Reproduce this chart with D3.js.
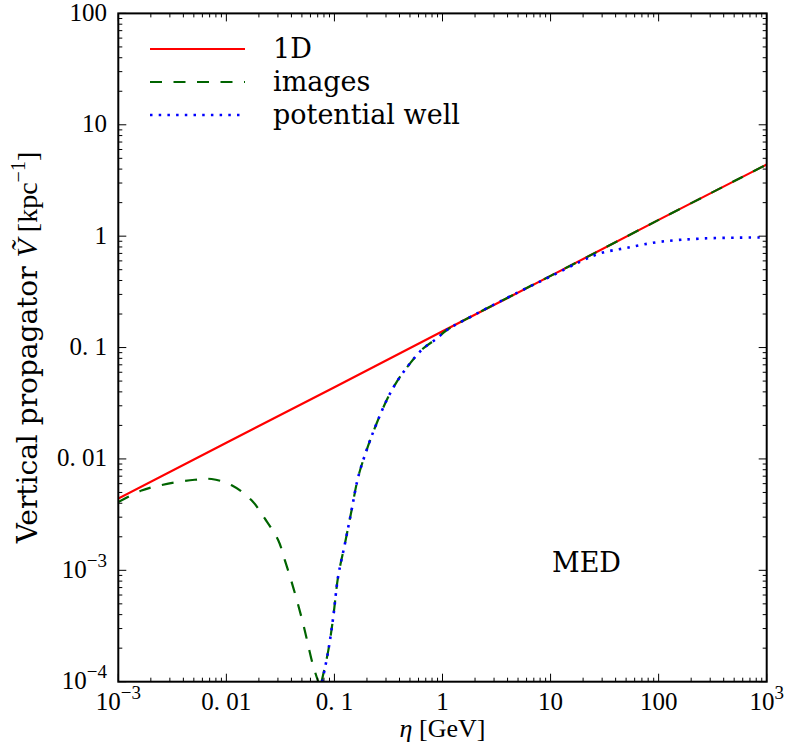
<!DOCTYPE html>
<html>
<head>
<meta charset="utf-8">
<script src="https://cdn.jsdelivr.net/npm/d3@7"></script>
<style>
  html, body { margin: 0; padding: 0; background: #fff; }
  svg { display: block; }
</style>
</head>
<body>
<svg id="chart" width="785" height="756"></svg>
<script>
// ---------- data ----------
const xTickValues = [1e-3, 1e-2, 1e-1, 1, 10, 100, 1000];
const xTickLabels = [["10", "\u22123"], ["0. 01"], ["0. 1"], ["1"], ["10"], ["100"], ["10", "3"]];
const yTickValues = [1e-4, 1e-3, 1e-2, 1e-1, 1, 10, 100];
const yTickLabels = [["10", "\u22124"], ["10", "\u22123"], ["0. 01"], ["0. 1"], ["1"], ["10"], ["100"]];

const seriesNames = ["1D", "images", "potential well"];

// 1D (straight power law in log-log)
const eta1D = [0.001, 0.01, 0.1, 1, 10, 100, 1000];
const v1D   = [0.0044, 0.014, 0.044, 0.14, 0.44, 1.4, 4.4];

// images: left branch (before the dip) and right branch
const etaImagesA = [0.001, 0.00164, 0.0029, 0.0051, 0.0073, 0.0112, 0.0171, 0.0228, 0.0302, 0.0348, 0.0416, 0.0514, 0.0628, 0.0708];
const vImagesA   = [0.0041, 0.0052, 0.0060, 0.0065, 0.0066, 0.0058, 0.00425, 0.0029, 0.00186, 0.00123, 0.0007, 0.00033, 0.000145, 0.0001];
const etaImagesB = [0.076, 0.0877, 0.0975, 0.108, 0.125, 0.144, 0.166, 0.206, 0.245, 0.304, 0.376, 0.499, 0.662, 0.88, 1.09, 2, 5, 10, 100, 1000];
const vImagesB   = [0.0001, 0.00019, 0.00038, 0.00087, 0.00173, 0.00345, 0.0069, 0.0133, 0.0207, 0.0336, 0.049, 0.0718, 0.098, 0.12, 0.143, 0.198, 0.313, 0.44, 1.4, 4.4];

// potential well
const etaWell = [0.077, 0.0877, 0.0975, 0.108, 0.125, 0.144, 0.166, 0.206, 0.245, 0.304, 0.376, 0.499, 0.662, 0.88, 1.09, 2, 5, 10, 18.7, 28.6, 50.4, 102, 258, 1000];
const vWell   = [0.0001, 0.00019, 0.00038, 0.00087, 0.00173, 0.00345, 0.0069, 0.0133, 0.0207, 0.0336, 0.049, 0.0718, 0.098, 0.12, 0.143, 0.198, 0.313, 0.435, 0.588, 0.70, 0.785, 0.889, 0.953, 0.975];

const annotation = "MED";

// ---------- layout ----------
const svg = d3.select("#chart");
const L = 118.3, R = 766.7, T = 13.4, B = 681.7;
const x = d3.scaleLog().domain([1e-3, 1e3]).range([L, R]);
const y = d3.scaleLog().domain([1e-4, 1e2]).range([B, T]);

const zip = (a, b) => a.map((v, i) => [v, b[i]]);

svg.append("rect").attr("width", 785).attr("height", 756).attr("fill", "#fff");

svg.append("clipPath").attr("id", "clip")
  .append("rect").attr("x", L).attr("y", T).attr("width", R - L).attr("height", B - T);

const plot = svg.append("g").attr("clip-path", "url(#clip)");

const lineLin = d3.line().x(d => x(d[0])).y(d => y(d[1]));
const lineSmooth = d3.line().x(d => x(d[0])).y(d => y(d[1])).curve(d3.curveCatmullRom.alpha(0.5));

const styles = [
  { color: "#ff0000", dash: null, width: 2.2 },
  { color: "#006400", dash: "12,11.5", width: 2.2 },
  { color: "#0000ff", dash: "2.5,6.2", width: 2.6 }
];

plot.append("path").datum(zip(eta1D, v1D)).attr("d", lineLin)
  .attr("fill", "none").attr("stroke", styles[0].color).attr("stroke-width", styles[0].width);

[zip(etaImagesA, vImagesA), zip(etaImagesB, vImagesB)].forEach(seg => {
  plot.append("path").datum(seg).attr("d", lineSmooth)
    .attr("fill", "none").attr("stroke", styles[1].color).attr("stroke-width", styles[1].width)
    .attr("stroke-dasharray", styles[1].dash);
});

plot.append("path").datum(zip(etaWell, vWell)).attr("d", lineSmooth)
  .attr("fill", "none").attr("stroke", styles[2].color).attr("stroke-width", styles[2].width)
  .attr("stroke-dasharray", styles[2].dash);

// ---------- ticks (inward, all four sides) ----------
const ticksG = svg.append("g").attr("stroke", "#000").attr("stroke-width", 1);
const isMajor = v => Math.abs(Math.log10(v) - Math.round(Math.log10(v))) < 1e-9;
x.ticks().forEach(v => {
  const len = isMajor(v) ? 8 : 4;
  const px = x(v);
  ticksG.append("line").attr("x1", px).attr("x2", px).attr("y1", B).attr("y2", B - len);
  ticksG.append("line").attr("x1", px).attr("x2", px).attr("y1", T).attr("y2", T + len);
});
y.ticks().forEach(v => {
  const len = isMajor(v) ? 8 : 4;
  const py = y(v);
  ticksG.append("line").attr("x1", L).attr("x2", L + len).attr("y1", py).attr("y2", py);
  ticksG.append("line").attr("x1", R).attr("x2", R - len).attr("y1", py).attr("y2", py);
});

// frame
svg.append("rect").attr("x", L).attr("y", T).attr("width", R - L).attr("height", B - T)
  .attr("fill", "none").attr("stroke", "#000").attr("stroke-width", 2);

// ---------- tick labels ----------
const mathFont = "'Liberation Serif', 'Times New Roman', serif";
const textFont = "'DejaVu Serif', serif";
function addLabel(g, parts) {
  const t = g.append("text").attr("font-family", mathFont).attr("font-size", 25).attr("fill", "#000");
  t.append("tspan").text(parts[0]);
  if (parts[1]) t.append("tspan").attr("font-size", 19).attr("dy", -11).text(parts[1]);
  return t;
}
xTickValues.forEach((v, i) => {
  const g = svg.append("g");
  const t = addLabel(g, xTickLabels[i]);
  const w = t.node().getComputedTextLength();
  t.attr("x", x(v) - w / 2).attr("y", 710);
});
yTickValues.forEach((v, i) => {
  const g = svg.append("g");
  const t = addLabel(g, yTickLabels[i]);
  const w = t.node().getComputedTextLength();
  t.attr("x", 107 - w).attr("y", y(v) + 7.5);
});

// ---------- axis labels ----------
const xl = svg.append("text").attr("font-family", mathFont).attr("font-size", 26).attr("fill", "#000");
xl.append("tspan").attr("font-style", "italic").text("\u03B7");
xl.append("tspan").text(" [GeV]");
const xlw = xl.node().getComputedTextLength();
xl.attr("x", (L + R) / 2 - xlw / 2).attr("y", 737);

const yl = svg.append("text").attr("fill", "#000").attr("font-size", 28);
yl.append("tspan").attr("font-family", textFont).text("Vertical propagator ");
yl.append("tspan").attr("font-family", mathFont).attr("font-style", "italic").attr("font-size", 30).text("V\u0303");
yl.append("tspan").attr("font-family", mathFont).attr("font-size", 28).text(" [kpc");
yl.append("tspan").attr("font-family", mathFont).attr("font-size", 20).attr("dy", -12).text("\u22121");
yl.append("tspan").attr("font-family", mathFont).attr("font-size", 28).attr("dy", 12).text("]");
const ylw = yl.node().getComputedTextLength();
yl.attr("transform", `translate(37, ${(T + B) / 2 + ylw / 2}) rotate(-90)`);

// ---------- annotation ----------
svg.append("text").attr("x", 552).attr("y", 572).attr("font-family", textFont)
  .attr("font-size", 27).attr("fill", "#000").text(annotation);

// ---------- legend ----------
const legendRows = [49, 82, 115];
seriesNames.forEach((name, i) => {
  const s = styles[i];
  svg.append("line").attr("x1", 150).attr("x2", 245).attr("y1", legendRows[i]).attr("y2", legendRows[i])
    .attr("stroke", s.color).attr("stroke-width", s.width)
    .attr("stroke-dasharray", s.dash);
  svg.append("text").attr("x", 273).attr("y", legendRows[i] + 9).attr("font-family", textFont)
    .attr("font-size", 27).attr("fill", "#000").text(name);
});
</script>
</body>
</html>
